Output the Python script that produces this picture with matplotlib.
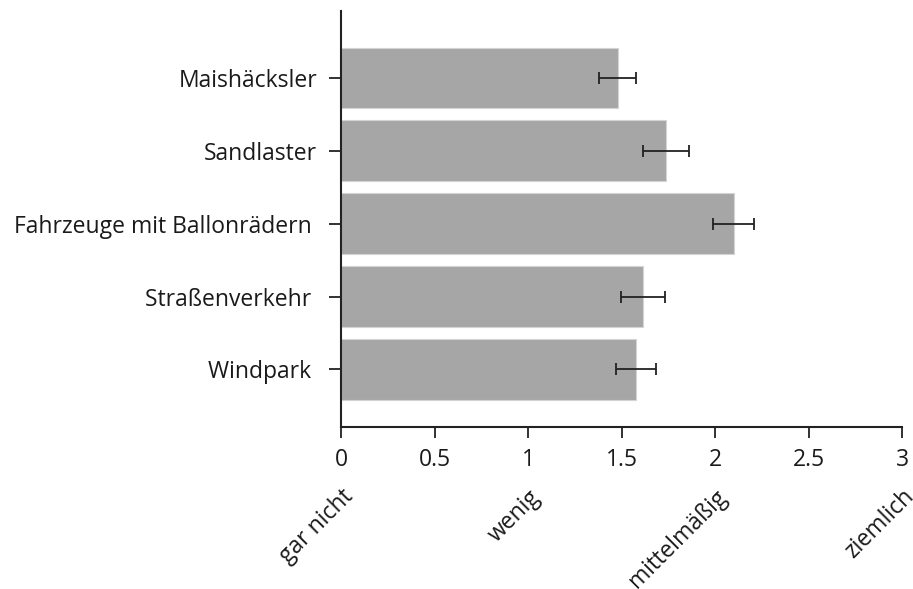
import numpy as np
from matplotlib import pyplot as plt

plt.rcParams['font.family'] = ['Open Sans', 'DejaVu Sans']

# data, bottom to top
categories = ['Windpark ', 'Straßenverkehr ', 'Fahrzeuge mit Ballonrädern ', 'Sandlaster', 'Maishäcksler']
means = [1.575, 1.616, 2.10, 1.737, 1.48]
errors = [0.107, 0.118, 0.11, 0.122, 0.10]
scale_ticks = [0, 1, 2, 3]
scale_labels = ['gar nicht', 'wenig', 'mittelmäßig', 'ziemlich']
x_ticks = [0, 0.5, 1, 1.5, 2, 2.5, 3]

fig = plt.figure(figsize=(9.13, 5.89), dpi=100)
ax = fig.add_axes([0.3735, 0.2756, 0.988 - 0.3735, 0.9813 - 0.2756])

y = np.arange(len(categories))
ax.barh(y, means, height=0.835, color='#a6a6a6', edgecolor='#d4d4d4', linewidth=0.8)
ax.errorbar(means, y, xerr=errors, fmt='none', ecolor='#222222', elinewidth=1.3,
            capsize=4, capthick=1.3)

ax.set_yticks(y, categories)
ax.set_ylim(-0.785, 4.92)
ax.set_xlim(0, 3)
ax.set_xticks(x_ticks, [f'{t:g}' for t in x_ticks])

for s in ['top', 'right']:
    ax.spines[s].set_visible(False)
for s in ['left', 'bottom']:
    ax.spines[s].set_linewidth(1.5)
    ax.spines[s].set_color('#222222')

ax.tick_params(axis='x', length=8, width=1.3, color='#222222', labelsize=16.5, pad=7,
               labelcolor='#1a1a1a')
ax.tick_params(axis='y', length=9, width=1.3, color='#222222', labelsize=16.5, pad=8,
               labelcolor='#1a1a1a')

# second row of labels: verbal scale
sec = ax.secondary_xaxis('bottom')
sec.set_xticks(scale_ticks, scale_labels)
sec.tick_params(length=0, labelsize=16.5, pad=42, labelcolor='#1a1a1a')
sec.spines['bottom'].set_visible(False)
for lab in sec.get_xticklabels():
    lab.set_rotation(45)
    lab.set_ha('right')
    lab.set_rotation_mode('anchor')

plt.savefig('out.png', dpi=100)
